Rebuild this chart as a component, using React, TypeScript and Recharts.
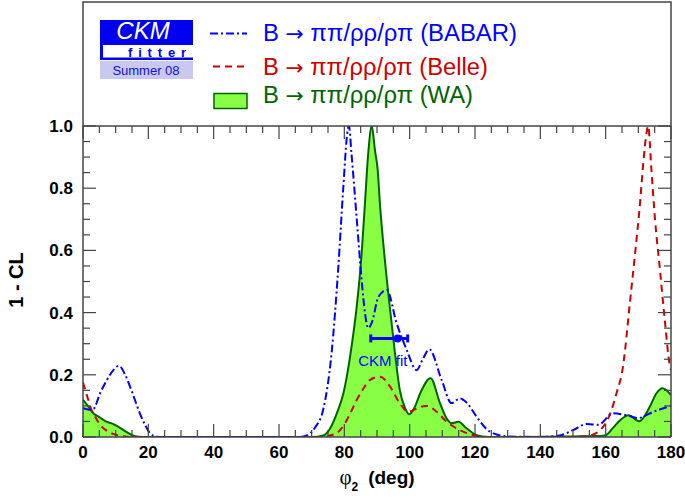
import React from 'react';
import { ComposedChart, Area, Line, Scatter, ErrorBar, XAxis, YAxis, ReferenceDot } from 'recharts';

// World average (WA) 1-CL
const waX = [0, 1.5, 3, 5, 7, 9, 11, 13, 15, 17, 20, 60, 70, 73.5, 75.5, 77.7, 79.7, 82.2, 83.8, 85.3, 86.3, 87.3, 88.4, 89.4, 90.2, 90.9, 92.4, 94, 95.5, 97, 98.6, 99.9, 101.5, 103.2, 106.4, 109.3, 111.3, 112.9, 114.9, 117.4, 120.5, 124, 130, 150, 157, 159.8, 162.3, 164.5, 167, 170.3, 173.5, 175.5, 177.4, 180];
const waY = [0.12, 0.1, 0.078, 0.064, 0.05, 0.043, 0.032, 0.018, 0.006, 0.001, 0, 0, 0, 0.005, 0.025, 0.076, 0.14, 0.29, 0.42, 0.59, 0.75, 0.91, 1.0, 0.92, 0.86, 0.75, 0.57, 0.41, 0.27, 0.15, 0.093, 0.073, 0.095, 0.14, 0.189, 0.108, 0.06, 0.044, 0.049, 0.028, 0.006, 0, 0, 0.002, 0.003, 0.005, 0.03, 0.055, 0.07, 0.051, 0.097, 0.14, 0.157, 0.135];

// BABAR 1-CL
const babarX = [0, 2, 3.2, 5.2, 7.3, 9.3, 11, 12.9, 14.4, 15.9, 17.4, 19, 20.5, 22, 24, 60, 66, 68.5, 71, 73.5, 76.1, 78.1, 79.7, 80.9, 81.4, 82.2, 83.8, 85.3, 86.3, 87.3, 88.5, 90.4, 93, 96, 99.1, 102.1, 104, 106, 109.8, 112.8, 115.4, 117.5, 120.5, 124.6, 130, 140, 146, 150, 154.2, 157.7, 162.3, 166.4, 169.9, 174.6, 180];
const babarY = [0.093, 0.088, 0.09, 0.14, 0.183, 0.215, 0.229, 0.2, 0.162, 0.119, 0.076, 0.039, 0.012, 0.003, 0, 0, 0, 0.005, 0.03, 0.087, 0.27, 0.537, 0.805, 0.977, 1.0, 0.91, 0.7, 0.505, 0.4, 0.35, 0.37, 0.45, 0.473, 0.366, 0.28, 0.215, 0.25, 0.282, 0.183, 0.109, 0.124, 0.11, 0.065, 0.017, 0.002, 0, 0.005, 0.022, 0.042, 0.039, 0.076, 0.07, 0.061, 0.081, 0.1];

// Belle 1-CL
const belleX = [0, 1.3, 2.6, 4, 5.2, 7, 9.2, 12, 14, 70, 73, 75.6, 78, 80.2, 82, 83.8, 85.8, 87.8, 90.9, 94, 97, 99.6, 101.5, 103.2, 105.2, 108.3, 111.3, 115.4, 119.5, 123, 150, 155.2, 158.3, 160.3, 161.8, 163.3, 165.3, 167.4, 169, 170.5, 171.5, 172.5, 173, 174, 175.1, 176.6, 178.1, 179.7, 180];
const belleY = [0.175, 0.13, 0.087, 0.06, 0.04, 0.022, 0.01, 0.003, 0, 0, 0, 0.005, 0.015, 0.044, 0.08, 0.119, 0.155, 0.183, 0.194, 0.162, 0.108, 0.081, 0.088, 0.097, 0.1, 0.081, 0.049, 0.022, 0.006, 0, 0, 0.005, 0.022, 0.05, 0.087, 0.14, 0.226, 0.43, 0.59, 0.75, 0.88, 0.977, 1.0, 0.86, 0.7, 0.54, 0.376, 0.226, 0.215];

// CKM fit point with asymmetric error
const ckmFitX = [96.3];
const ckmFitY = [0.317];
const ckmFitErr = [[8.2, 3.1]];
const ckmLabelPos = { x: 91.8, y: 0.245 };

const xTicks = [0, 5, 10, 15, 20, 25, 30, 35, 40, 45, 50, 55, 60, 65, 70, 75, 80, 85, 90, 95, 100, 105, 110, 115, 120, 125, 130, 135, 140, 145, 150, 155, 160, 165, 170, 175, 180];
const yTicks = [0, 0.05, 0.1, 0.15, 0.2, 0.25, 0.3, 0.35, 0.4, 0.45, 0.5, 0.55, 0.6, 0.65, 0.7, 0.75, 0.8, 0.85, 0.9, 0.95, 1.0];

const legendLabels = ['(BABAR)', '(Belle)', '(WA)'];

const waData = waX.map((x, i) => ({ x, wa: waY[i] }));
const babarData = babarX.map((x, i) => ({ x, babar: babarY[i] }));
const belleData = belleX.map((x, i) => ({ x, belle: belleY[i] }));
const fitData = ckmFitX.map((x, i) => ({ x, y: ckmFitY[i], err: ckmFitErr[i] }));

const FONT = "'Liberation Sans', Arial, Helvetica, sans-serif";
const SERIF = "'Liberation Serif', 'DejaVu Serif', serif";
const AX = '#444';
const BLUE = '#0000ff';
const RED = '#cc0000';
const DKGREEN = '#006400';
const LTGREEN = '#88ff44';

const BottomTick = (p: any) => {
  const { x, y, payload } = p;
  const v = payload.value;
  const major = v % 20 === 0;
  return (
    <g>
      <line x1={x} y1={y} x2={x} y2={y - (major ? 13 : 7)} stroke={AX} strokeWidth={1.2} />
      {major && (
        <text x={x} y={y + 21} textAnchor="middle" fontFamily={FONT} fontWeight="bold" fontSize={17} fill="#000">
          {v}
        </text>
      )}
    </g>
  );
};

const TopTick = (p: any) => {
  const { x, y, payload } = p;
  const major = payload.value % 20 === 0;
  return <line x1={x} y1={y} x2={x} y2={y + (major ? 13 : 7)} stroke={AX} strokeWidth={1.2} />;
};

const isMajorY = (v: number) => Math.round(v * 20) % 4 === 0;

const LeftTick = (p: any) => {
  const { x, y, payload } = p;
  const v = payload.value;
  const major = isMajorY(v);
  return (
    <g>
      <line x1={x} y1={y} x2={x + (major ? 13 : 7)} y2={y} stroke={AX} strokeWidth={1.2} />
      {major && (
        <text x={x - 10} y={y + 6} textAnchor="end" fontFamily={FONT} fontWeight="bold" fontSize={17} fill="#000">
          {v.toFixed(1)}
        </text>
      )}
    </g>
  );
};

const RightTick = (p: any) => {
  const { x, y, payload } = p;
  const major = isMajorY(payload.value);
  return <line x1={x} y1={y} x2={x - (major ? 13 : 7)} y2={y} stroke={AX} strokeWidth={1.2} />;
};

const LegendText = ({ x, y, fill, label, width }: any) => (
  <text x={x} y={y} fontFamily={FONT} fontSize={23} fill={fill} textLength={width} lengthAdjust="spacingAndGlyphs">
    <tspan>B </tspan>
    <tspan fontFamily="'DejaVu Sans', sans-serif" fontSize={21}>→</tspan>
    <tspan> ππ/ρρ/ρπ {label}</tspan>
  </text>
);

export default function App() {
  return (
    <div style={{ position: 'absolute', left: 0, top: 0, width: 685, height: 501, background: '#fff' }}>
      <ComposedChart width={685} height={501} margin={{ top: 125, right: 0, bottom: 24, left: 0 }}>
        <XAxis
          xAxisId="b"
          dataKey="x"
          type="number"
          domain={[0, 180]}
          ticks={xTicks}
          interval={0}
          height={40}
          tickSize={0}
          tickMargin={0}
          tickLine={false}
          axisLine={{ stroke: AX, strokeWidth: 1.5 }}
          tick={<BottomTick />}
          allowDataOverflow
        />
        <XAxis
          xAxisId="t"
          orientation="top"
          dataKey="x"
          type="number"
          domain={[0, 180]}
          ticks={xTicks}
          interval={0}
          height={1}
          tickSize={0}
          tickMargin={0}
          tickLine={false}
          axisLine={{ stroke: AX, strokeWidth: 1.5 }}
          tick={<TopTick />}
          allowDataOverflow
        />
        <YAxis
          yAxisId="l"
          type="number"
          domain={[0, 1]}
          ticks={yTicks}
          interval={0}
          width={83}
          tickSize={0}
          tickMargin={0}
          tickLine={false}
          axisLine={{ stroke: AX, strokeWidth: 1.5 }}
          tick={<LeftTick />}
          allowDataOverflow
        />
        <YAxis
          yAxisId="r"
          orientation="right"
          type="number"
          domain={[0, 1]}
          ticks={yTicks}
          interval={0}
          width={14}
          tickSize={0}
          tickMargin={0}
          tickLine={false}
          axisLine={{ stroke: AX, strokeWidth: 1.5 }}
          tick={<RightTick />}
          allowDataOverflow
        />
        <Area
          xAxisId="b"
          yAxisId="l"
          data={waData}
          dataKey="wa"
          type="monotone"
          fill={LTGREEN}
          fillOpacity={1}
          stroke={DKGREEN}
          strokeWidth={2}
          isAnimationActive={false}
          dot={false}
          activeDot={false}
        />
        <Line
          xAxisId="b"
          yAxisId="l"
          data={belleData}
          dataKey="belle"
          type="monotone"
          stroke={RED}
          strokeWidth={2}
          strokeDasharray="7 5"
          dot={false}
          activeDot={false}
          isAnimationActive={false}
        />
        <Line
          xAxisId="b"
          yAxisId="l"
          data={babarData}
          dataKey="babar"
          type="monotone"
          stroke={BLUE}
          strokeWidth={2}
          strokeDasharray="8 3 2 3"
          dot={false}
          activeDot={false}
          isAnimationActive={false}
        />
        <Scatter
          xAxisId="b"
          yAxisId="l"
          data={fitData}
          dataKey="y"
          fill={BLUE}
          isAnimationActive={false}
          shape={(p: any) => <circle cx={p.cx} cy={p.cy} r={4} fill={BLUE} />}
        >
          <ErrorBar dataKey="err" direction="x" width={4} strokeWidth={3} stroke={BLUE} />
        </Scatter>
        <ReferenceDot
          xAxisId="b"
          yAxisId="l"
          x={ckmLabelPos.x}
          y={ckmLabelPos.y}
          r={0}
          fill="none"
          stroke="none"
          label={{ value: 'CKM fit', position: 'center', fill: BLUE, fontSize: 15, fontFamily: FONT }}
        />
      </ComposedChart>
      <svg width={685} height={501} style={{ position: 'absolute', left: 0, top: 0, pointerEvents: 'none' }}>
        {/* legend frame */}
        <path d="M83 126 L83 2 L671 2 L671 126" fill="none" stroke={AX} strokeWidth={1.5} />
        {/* CKMfitter logo */}
        <rect x={100} y={20} width={93} height={40} fill="#0000f0" />
        <rect x={103} y={45} width={90} height={12.5} fill="#fff" />
        <text x={143} y={38.5} textAnchor="middle" fontFamily={FONT} fontStyle="italic" fontSize={24} fill="#fff">CKM</text>
        <text x={128} y={57} textLength={58} lengthAdjust="spacing" fontFamily={FONT} fontWeight="bold" fontSize={13} fill="#0000f0">fitter</text>
        <rect x={100} y={61} width={93} height={18} fill="#c8c8f0" />
        <text x={146} y={75} textAnchor="middle" fontFamily={FONT} fontSize={13} fill="#1010e0">Summer 08</text>
        {/* legend entries */}
        <line x1={210} y1={33.5} x2={247} y2={33.5} stroke={BLUE} strokeWidth={2} strokeDasharray="8 3 2 3" />
        <LegendText x={263} y={41} fill={BLUE} label={legendLabels[0]} width={254} />
        <line x1={213} y1={66.5} x2={247} y2={66.5} stroke={RED} strokeWidth={2} strokeDasharray="7 5" />
        <LegendText x={263} y={74.5} fill={RED} label={legendLabels[1]} width={225} />
        <rect x={214} y={93.5} width={33} height={15} fill={LTGREEN} stroke={DKGREEN} strokeWidth={1.5} />
        <LegendText x={263} y={103} fill={DKGREEN} label={legendLabels[2]} width={210} />
        {/* axis titles */}
        <text transform="translate(23,280) rotate(-90)" textAnchor="middle" fontFamily={FONT} fontWeight="bold" fontSize={20} fill="#000">1 - CL</text>
        <text x={377} y={484} textAnchor="middle" fontFamily={FONT} fontWeight="bold" fontSize={19} fill="#000">
          <tspan fontFamily={SERIF} fontWeight="normal" fontSize={21}>φ</tspan>
          <tspan fontSize={12} dy={7}>2</tspan>
          <tspan dy={-7} dx={10}>(deg)</tspan>
        </text>
      </svg>
    </div>
  );
}
